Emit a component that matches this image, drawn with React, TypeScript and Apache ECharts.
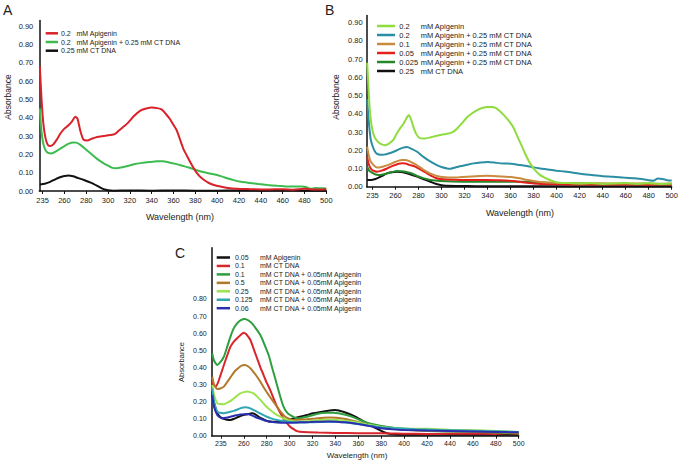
import React, { useEffect, useRef } from "react";
import * as echarts from "echarts";

// ---------- tick values ----------
const xTicks = [240, 260, 280, 300, 320, 340, 360, 380, 400, 420, 440, 460, 480, 500];
const yTicksAB = [0, 0.1, 0.2, 0.3, 0.4, 0.5, 0.6, 0.7, 0.8, 0.9];
const yTicksC = [0, 0.1, 0.2, 0.3, 0.4, 0.5, 0.6, 0.7, 0.8];

// ---------- Panel A ----------
const aApigenin: [number, number][] = [[237.5,0.68],[238.5,0.56],[239.5,0.46],[240.5,0.38],[242,0.31],[243.5,0.27],[245,0.25],[247,0.245],[250,0.255],[253,0.28],[256.5,0.315],[260,0.34],[264,0.36],[267,0.38],[270,0.405],[272,0.395],[274.5,0.33],[277.5,0.28],[281,0.275],[285,0.285],[290,0.295],[296,0.3],[302,0.305],[306,0.31],[310,0.33],[314,0.35],[318,0.37],[324,0.41],[330,0.44],[335,0.45],[340,0.455],[345,0.452],[349,0.445],[353,0.42],[357,0.39],[360,0.36],[363,0.33],[366,0.28],[369,0.23],[372.5,0.19],[376,0.15],[380,0.11],[384,0.08],[388,0.06],[392,0.045],[397,0.033],[403,0.024],[410,0.016],[418,0.012],[430,0.01],[445,0.008],[460,0.01],[470,0.007],[480,0.012],[490,0.008],[500,0.01]];
const aApigeninDna: [number, number][] = [[237.5,0.45],[238.5,0.36],[239.5,0.3],[241,0.25],[243,0.22],[245,0.208],[248,0.205],[252,0.215],[256,0.23],[260,0.245],[264,0.258],[268,0.265],[271,0.264],[275,0.25],[280,0.225],[285,0.2],[290,0.175],[295,0.155],[300,0.138],[304,0.126],[308,0.124],[312,0.128],[318,0.136],[324,0.146],[330,0.152],[338,0.158],[345,0.162],[350,0.162],[356,0.156],[362,0.148],[368,0.138],[374,0.128],[380,0.116],[386,0.105],[392,0.097],[398,0.09],[404,0.08],[410,0.068],[416,0.058],[422,0.05],[430,0.044],[438,0.038],[446,0.033],[455,0.028],[463,0.025],[470,0.024],[478,0.025],[482,0.02],[486,0.012],[490,0.016],[495,0.015],[500,0.014]];
const aDna: [number, number][] = [[237.5,0.036],[242,0.04],[247,0.05],[252,0.065],[256,0.075],[260,0.082],[264,0.085],[268,0.08],[272,0.072],[278,0.06],[283,0.048],[287,0.038],[292,0.022],[296,0.01],[300,0.004],[305,0.002],[320,0.003],[340,0.002],[360,0.003],[380,0.002],[400,0.002],[420,0.003],[440,0.002],[460,0.003],[480,0.002],[500,0.002]];

// ---------- Panel B ----------
const bApigenin: [number, number][] = [[235.4,0.68],[236.5,0.55],[237.5,0.44],[238.5,0.37],[240,0.31],[242,0.27],[245,0.245],[248,0.232],[251,0.228],[254,0.235],[258,0.255],[261,0.29],[264,0.32],[267,0.345],[269.5,0.375],[271.5,0.393],[273.5,0.37],[275.5,0.33],[278,0.29],[281,0.266],[285,0.264],[290,0.27],[295,0.278],[300,0.285],[305,0.29],[308,0.295],[311,0.305],[314,0.322],[318,0.35],[322,0.38],[326,0.4],[331,0.42],[336,0.433],[340,0.438],[344,0.438],[347,0.432],[350,0.418],[354,0.394],[358,0.365],[362,0.33],[366,0.275],[370,0.22],[373.5,0.17],[377,0.128],[381,0.092],[385.5,0.065],[390,0.048],[394,0.037],[398,0.028],[403,0.022],[410,0.02],[420,0.018],[430,0.02],[440,0.015],[450,0.018],[460,0.02],[470,0.015],[480,0.02],[490,0.015],[500,0.017]];
const bApiDna02: [number, number][] = [[235.4,0.48],[236.5,0.38],[237.5,0.31],[238.5,0.26],[240,0.225],[242,0.195],[244,0.18],[247,0.175],[250,0.176],[254,0.182],[258.5,0.192],[262,0.202],[266,0.213],[270,0.218],[274,0.208],[278.8,0.192],[283,0.17],[287.4,0.15],[292,0.132],[296,0.118],[300,0.108],[304.8,0.1],[308,0.099],[312,0.105],[316,0.112],[322,0.12],[328,0.128],[334,0.133],[340,0.136],[346,0.133],[351,0.128],[357,0.127],[362.5,0.124],[368,0.119],[374,0.114],[380,0.106],[385.7,0.1],[392,0.095],[400,0.088],[407,0.083],[414.6,0.077],[422,0.07],[432,0.063],[440,0.058],[449.3,0.055],[458,0.05],[466.6,0.046],[474,0.042],[480,0.036],[484,0.033],[488,0.045],[492,0.042],[496,0.036],[500,0.034]];
const bApiDna01: [number, number][] = [[235.4,0.22],[236.5,0.18],[238,0.145],[239.7,0.128],[242,0.112],[244,0.106],[247,0.107],[250,0.112],[252.7,0.117],[256,0.125],[259,0.134],[262.8,0.143],[265.5,0.147],[268.6,0.147],[272,0.14],[275.8,0.128],[280,0.112],[283.5,0.097],[287.4,0.082],[291,0.07],[295,0.061],[299,0.055],[303,0.052],[307.6,0.05],[315,0.052],[322,0.055],[330,0.058],[339.5,0.06],[348,0.058],[356,0.055],[362,0.052],[368,0.046],[374,0.038],[380,0.031],[388,0.025],[397,0.022],[410,0.02],[425,0.018],[440,0.019],[455,0.017],[470,0.018],[485,0.016],[500,0.017]];
const bApiDna005: [number, number][] = [[235.4,0.165],[236.5,0.13],[238,0.105],[239.7,0.092],[242,0.085],[244,0.082],[248,0.088],[252.7,0.1],[257,0.113],[262.8,0.126],[266,0.128],[268.6,0.127],[272,0.12],[277,0.11],[282,0.093],[287.4,0.073],[292,0.057],[295,0.048],[299,0.042],[305,0.039],[316,0.037],[328,0.037],[339.5,0.037],[350,0.035],[362.5,0.031],[370,0.025],[380,0.018],[390,0.015],[400,0.013],[420,0.012],[440,0.012],[460,0.012],[480,0.011],[500,0.012]];
const bApiDna0025: [number, number][] = [[235.4,0.11],[236.5,0.095],[238,0.083],[239.7,0.077],[242,0.068],[245.4,0.064],[249,0.067],[252.7,0.073],[257,0.08],[261.3,0.086],[265,0.085],[268.6,0.082],[273,0.075],[278.8,0.059],[284,0.047],[290.4,0.037],[299,0.031],[310,0.028],[328,0.027],[350,0.027],[374,0.027],[382,0.024],[391,0.022],[400,0.02],[414,0.018],[430,0.016],[450,0.015],[470,0.015],[490,0.014],[500,0.014]];
const bDna: [number, number][] = [[235.4,0.037],[238,0.037],[241,0.04],[244,0.046],[248,0.058],[252.7,0.073],[257,0.079],[261.3,0.082],[265,0.08],[270,0.073],[274,0.065],[278.8,0.055],[284,0.042],[290.4,0.027],[295,0.016],[299,0.009],[304,0.005],[315,0.004],[330,0.003],[350,0.003],[370,0.002],[400,0.002],[430,0.002],[460,0.002],[500,0.002]];

// ---------- Panel C ----------
const cApigenin: [number, number][] = [[232.5,0.258],[233.5,0.21],[235,0.17],[236.9,0.131],[239.5,0.11],[242.6,0.098],[245.5,0.093],[248.4,0.092],[252,0.1],[255.6,0.111],[259,0.119],[262.8,0.125],[267.2,0.131],[270,0.125],[273,0.111],[276.5,0.098],[280.2,0.086],[285,0.081],[289,0.082],[293,0.086],[297.6,0.092],[303,0.1],[309,0.111],[315,0.121],[320.6,0.131],[326,0.138],[332.4,0.145],[339.6,0.15],[343,0.148],[346.8,0.14],[351,0.13],[355.5,0.117],[360,0.102],[364.1,0.086],[368.5,0.07],[372.8,0.053],[377,0.038],[381.5,0.023],[386,0.013],[390,0.008],[400,0.005],[420,0.005],[440,0.006],[460,0.005],[480,0.006],[500,0.005]];
const cDna: [number, number][] = [[232.5,0.316],[233.5,0.3],[235.4,0.287],[237.5,0.31],[239.5,0.35],[241.2,0.384],[244.5,0.45],[248.4,0.521],[251,0.548],[254.2,0.57],[257,0.588],[260,0.603],[262,0.595],[264,0.578],[265.8,0.56],[268,0.52],[271.6,0.453],[274.5,0.4],[277.3,0.355],[280,0.31],[283.1,0.267],[286,0.218],[289,0.17],[292,0.132],[294.7,0.102],[297.5,0.075],[300.5,0.053],[303.5,0.038],[306.3,0.027],[312,0.021],[325,0.018],[340,0.016],[360,0.015],[380,0.015],[400,0.012],[420,0.01],[440,0.011],[460,0.012],[480,0.01],[490,0.015],[500,0.012]];
const cDna01Api: [number, number][] = [[232.5,0.482],[234,0.44],[236.9,0.414],[239.5,0.43],[242.6,0.462],[245.5,0.52],[248.4,0.58],[251,0.625],[254.2,0.657],[257.5,0.676],[260.8,0.683],[264,0.675],[267.2,0.657],[270.5,0.628],[274.5,0.589],[278,0.535],[281.7,0.472],[285.5,0.38],[289,0.297],[292,0.225],[294.7,0.17],[297.5,0.138],[300.5,0.121],[306.3,0.102],[310,0.104],[315,0.111],[320,0.12],[326.5,0.131],[332,0.134],[338,0.135],[344,0.13],[349.7,0.121],[356,0.107],[361.3,0.092],[367,0.078],[372.8,0.067],[378,0.06],[384.4,0.053],[395,0.042],[407.5,0.033],[420,0.028],[435,0.025],[448,0.023],[460,0.022],[470,0.02],[480,0.019],[493,0.015],[500,0.015]];
const cDna05Api: [number, number][] = [[232.5,0.345],[234,0.3],[236.9,0.273],[239.5,0.276],[242.6,0.287],[246,0.318],[249.8,0.355],[252.5,0.38],[255.6,0.398],[258,0.41],[260.8,0.414],[264,0.405],[267.2,0.384],[270.5,0.355],[274.5,0.316],[278,0.276],[281.7,0.238],[285.5,0.202],[289,0.17],[292.5,0.138],[296.2,0.111],[299.5,0.1],[303.4,0.092],[308,0.093],[315,0.096],[322,0.1],[329.4,0.105],[335,0.106],[341,0.105],[346,0.1],[352.6,0.092],[358,0.083],[364.1,0.072],[370,0.062],[375.7,0.053],[382,0.046],[390,0.04],[400,0.035],[415,0.03],[430,0.027],[450,0.024],[470,0.021],[485,0.018],[500,0.015]];
const cDna025Api: [number, number][] = [[232.5,0.297],[234,0.24],[236.9,0.19],[239.5,0.185],[242.6,0.184],[246,0.195],[249.8,0.21],[253.5,0.23],[257,0.248],[260,0.255],[262.8,0.258],[265.5,0.255],[268.6,0.248],[272,0.227],[275.9,0.199],[279.5,0.172],[283.1,0.15],[287.5,0.128],[291.8,0.111],[296,0.097],[300.5,0.088],[306,0.083],[312,0.082],[319,0.087],[326.5,0.092],[334,0.093],[341,0.092],[348,0.088],[355.5,0.082],[361,0.075],[367,0.067],[372.8,0.06],[378.6,0.053],[386,0.047],[395,0.043],[405,0.041],[420,0.04],[440,0.035],[460,0.032],[480,0.028],[490,0.025],[500,0.02]];
const cDna0125Api: [number, number][] = [[232.5,0.277],[234,0.2],[236.9,0.14],[239.5,0.134],[242.6,0.131],[246.5,0.137],[251.3,0.145],[255,0.155],[258.5,0.164],[261.5,0.166],[264.3,0.164],[268,0.153],[271.6,0.14],[276,0.125],[280.2,0.111],[284.5,0.1],[289,0.092],[296,0.084],[303.4,0.078],[310,0.077],[317.9,0.078],[325,0.08],[332.4,0.082],[340,0.081],[346.8,0.078],[354,0.073],[361.3,0.067],[368,0.06],[375.7,0.053],[384,0.047],[395,0.043],[410,0.038],[430,0.034],[450,0.031],[470,0.027],[485,0.025],[500,0.022]];
const cDna006Api: [number, number][] = [[232.5,0.238],[234,0.17],[236.9,0.121],[239,0.108],[241.2,0.102],[244.5,0.105],[248.4,0.111],[252.5,0.118],[257,0.124],[261,0.126],[264.3,0.125],[268,0.116],[271.6,0.105],[276,0.095],[280.2,0.086],[285,0.08],[291.8,0.076],[300,0.076],[309,0.078],[318,0.08],[326.5,0.082],[334,0.083],[341,0.082],[348,0.078],[355.5,0.073],[361,0.067],[367,0.06],[373,0.052],[380,0.043],[390,0.037],[400,0.033],[420,0.03],[440,0.028],[460,0.025],[480,0.022],[500,0.02]];

// ---------- legends ----------
const legendA = [
  { num: "0.2", text: "mM Apigenin", color: "#d8232a" },
  { num: "0.2", text: "mM Apigenin + 0.25 mM CT DNA", color: "#3dbb4f" },
  { num: "0.25", text: "mM CT DNA", color: "#111111" },
];
const legendB = [
  { num: "0.2", text: "mM Apigenin", color: "#8fdc3f" },
  { num: "0.2", text: "mM Apigenin + 0.25 mM CT DNA", color: "#2b8ea3" },
  { num: "0.1", text: "mM Apigenin + 0.25 mM CT DNA", color: "#c98b3f" },
  { num: "0.05", text: "mM Apigenin + 0.25 mM CT DNA", color: "#e3201b" },
  { num: "0.025", text: "mM Apigenin + 0.25 mM CT DNA", color: "#24882a" },
  { num: "0.25", text: "mM CT DNA", color: "#111111" },
];
const legendC = [
  { num: "0.05", text: "mM Apigenin", color: "#111111" },
  { num: "0.1", text: "mM CT DNA", color: "#d9252b" },
  { num: "0.1", text: "mM CT DNA + 0.05mM Apigenin", color: "#2e9e3e" },
  { num: "0.5", text: "mM CT DNA + 0.05mM Apigenin", color: "#b07a2a" },
  { num: "0.25", text: "mM CT DNA + 0.05mM Apigenin", color: "#9be34f" },
  { num: "0.125", text: "mM CT DNA + 0.05mM Apigenin", color: "#30a6b5" },
  { num: "0.06", text: "mM CT DNA + 0.05mM Apigenin", color: "#2a2fb0" },
];

const FONT = "Liberation Sans, Arial, sans-serif";

function makeX(grid: number, min: number, fs: number, margin: number) {
  return {
    type: "value",
    gridIndex: grid,
    min,
    max: 500,
    axisLine: { show: true, onZero: false, lineStyle: { color: "#111", width: 1.5 } },
    axisTick: { show: true, customValues: xTicks, length: 3, lineStyle: { color: "#111", width: 1 } },
    axisLabel: {
      customValues: xTicks,
      formatter: (v: number) => (v === 240 ? "235" : String(v)),
      fontSize: fs,
      color: "#222",
      margin,
      fontFamily: FONT,
    },
    splitLine: { show: false },
  };
}

function makeY(grid: number, max: number, ticks: number[], fs: number, margin: number) {
  return {
    type: "value",
    gridIndex: grid,
    min: 0,
    max,
    axisLine: { show: true, lineStyle: { color: "#111", width: 1.5 } },
    axisTick: { show: false },
    axisLabel: {
      customValues: ticks,
      formatter: (v: number) => v.toFixed(2),
      fontSize: fs,
      color: "#222",
      margin,
      fontFamily: FONT,
    },
    splitLine: { show: false },
  };
}

function line(data: [number, number][], color: string, idx: number, width = 2) {
  return {
    type: "line",
    xAxisIndex: idx,
    yAxisIndex: idx,
    data,
    showSymbol: false,
    symbol: "none",
    smooth: 0.2,
    lineStyle: { color, width },
    silent: true,
  };
}

function legendGraphics(
  items: { num: string; text: string; color: string }[],
  x1: number,
  x2: number,
  numX: number,
  textX: number,
  y0: number,
  dy: number,
  fs: number
) {
  const out: any[] = [];
  items.forEach((it, i) => {
    const y = y0 + i * dy;
    out.push({
      type: "line",
      shape: { x1, y1: y, x2, y2: y },
      style: { stroke: it.color, lineWidth: 2.5 },
      silent: true,
    });
    out.push({
      type: "text",
      x: numX,
      y,
      style: { text: it.num, fontSize: fs, fontFamily: FONT, fill: "#222", align: "left", verticalAlign: "middle" },
      silent: true,
    });
    out.push({
      type: "text",
      x: textX,
      y,
      style: { text: it.text, fontSize: fs, fontFamily: FONT, fill: "#222", align: "left", verticalAlign: "middle" },
      silent: true,
    });
  });
  return out;
}

function txt(text: string, x: number, y: number, fs: number, rotate = 0, align = "center") {
  return {
    type: "text",
    x,
    y,
    rotation: rotate,
    style: {
      text,
      fontSize: fs,
      fontFamily: FONT,
      fill: "#222",
      align,
      verticalAlign: "middle",
    },
    silent: true,
  };
}

export default function App() {
  const ref = useRef<HTMLDivElement>(null);
  useEffect(() => {
    if (!ref.current) return;
    const chart = echarts.init(ref.current, null, { renderer: "svg" });
    const option: any = {
      animation: false,
      backgroundColor: "#ffffff",
      grid: [
        { left: 39.3, top: 20.5, width: 287, height: 170.5 },
        { left: 366.7, top: 15.4, width: 305, height: 171.3 },
        { left: 211.7, top: 247.7, width: 307, height: 188 },
      ],
      xAxis: [makeX(0, 237, 7.5, 5), makeX(1, 235, 7.5, 5), makeX(2, 232, 7, 4)],
      yAxis: [
        makeY(0, 0.93, yTicksAB, 7.5, 6),
        makeY(1, 0.94, yTicksAB, 7.5, 4),
        makeY(2, 1.1, yTicksC, 7, 5),
      ],
      series: [
        line(aDna, "#111111", 0),
        line(aApigeninDna, "#3dbb4f", 0),
        line(aApigenin, "#d8232a", 0),
        line(bDna, "#111111", 1),
        line(bApiDna0025, "#24882a", 1),
        line(bApiDna005, "#e3201b", 1),
        line(bApiDna01, "#c98b3f", 1),
        line(bApiDna02, "#2b8ea3", 1),
        line(bApigenin, "#8fdc3f", 1),
        line(cApigenin, "#111111", 2),
        line(cDna, "#d9252b", 2),
        line(cDna01Api, "#2e9e3e", 2),
        line(cDna05Api, "#b07a2a", 2),
        line(cDna025Api, "#9be34f", 2),
        line(cDna0125Api, "#30a6b5", 2),
        line(cDna006Api, "#2a2fb0", 2),
      ],
      graphic: [
        txt("A", 3, 10, 14, 0, "left"),
        txt("B", 325, 10, 14, 0, "left"),
        txt("C", 175, 253, 14, 0, "left"),
        txt("Absorbance", 8, 97, 8.5, Math.PI / 2),
        txt("Wavelength (nm)", 180, 217, 9),
        txt("Absorbance", 336, 97, 8.5, Math.PI / 2),
        txt("Wavelength (nm)", 520, 213, 9),
        txt("Absorbance", 181.5, 362, 7.5, Math.PI / 2),
        txt("Wavelength (nm)", 357, 455, 8),
        ...legendGraphics(legendA, 45.7, 58, 61, 76.5, 33.3, 8.7, 7),
        ...legendGraphics(legendB, 377, 395, 399.3, 420.7, 26, 9, 7.5),
        ...legendGraphics(legendC, 216.7, 230, 235, 260, 257.5, 8.45, 7),
      ],
    };
    chart.setOption(option);
    return () => chart.dispose();
  }, []);
  return (
    <div
      ref={ref}
      style={{ position: "absolute", left: 0, top: 0, width: 683, height: 464, background: "#fff" }}
    />
  );
}
